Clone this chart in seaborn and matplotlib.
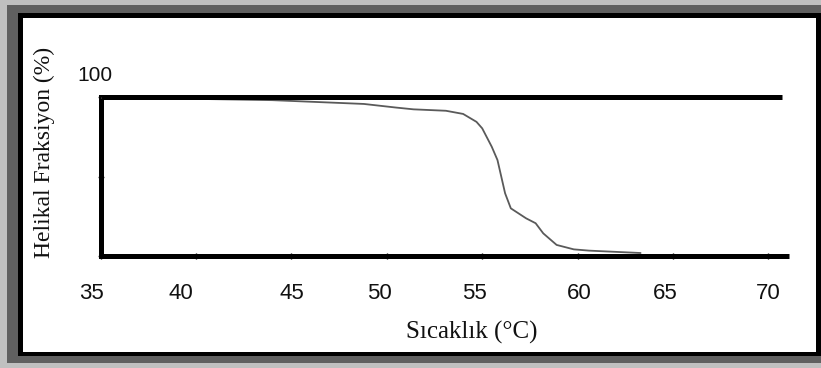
import matplotlib
matplotlib.use("Agg")
import matplotlib.pyplot as plt
import matplotlib.transforms as mtransforms
from matplotlib.patches import Rectangle
from matplotlib import font_manager
import seaborn as sns
import pandas as pd

# ---- data ----
temperature = [35, 40, 44, 46, 48.8, 50.5, 51.4, 53.1, 54.0, 54.7, 55.0, 55.5,
               55.8, 56.0, 56.2, 56.5, 57.3, 57.8, 58.2, 58.9, 59.8, 60.6, 63.3]
helical_fraction = [99.5, 99.0, 98.2, 97.2, 95.8, 93.5, 92.4, 91.5, 89.5, 84.5,
                    80.4, 68.8, 60.4, 49.9, 39.4, 29.9, 23.6, 20.5, 14.1, 6.8,
                    4.0, 3.2, 1.7]
x_ticks = [35, 40, 45, 50, 55, 60, 65, 70]
y_ticks = [0, 50, 100]
y_top_label = "100"
x_label = "Sıcaklık (°C)"
y_label = "Helikal Fraksiyon (%)"

df = pd.DataFrame({"T": temperature, "H": helical_fraction})

sns.set_theme(style="white")
plt.rcParams["font.family"] = ["Liberation Serif", "DejaVu Serif"]

installed = {f.name for f in font_manager.fontManager.ttflist}
tick_family = "Liberation Sans Narrow" if "Liberation Sans Narrow" in installed else "Liberation Sans"
tick_size = 18 if tick_family == "Liberation Sans Narrow" else 16

W, H = 821, 368
fig = plt.figure(figsize=(W / 100, H / 100), dpi=100)
fig.patch.set_facecolor("#c0c0c0")

def frect(x0, y0_top, x1, y1_top, color):
    fig.patches.append(Rectangle((x0 / W, (H - y1_top) / H), (x1 - x0) / W,
                                 (y1_top - y0_top) / H, transform=fig.transFigure,
                                 facecolor=color, edgecolor="none", zorder=-10))

frect(7, 5, 821, 363, "#606060")
frect(18, 13, 821, 356, "#000000")
frect(23, 18, 816, 352, "#ffffff")

ax = fig.add_axes([100.6 / W, (H - 255.7) / H, 690.7 / W, 158.4 / H])
ax.set_facecolor("none")

sns.lineplot(data=df, x="T", y="H", ax=ax, color="#5a5a5a", linewidth=1.3, zorder=3)

ax.set_xlim(35, 71.2)
ax.set_ylim(0, 100)

# thick frame lines
ax.hlines(100, 35, 70.7, colors="black", linewidth=3.6, clip_on=False, zorder=4)
ax.hlines(0, 35, 71.1, colors="black", linewidth=3.6, clip_on=False, zorder=4)
for side in ["top", "right", "bottom"]:
    ax.spines[side].set_visible(False)
ax.spines["left"].set_linewidth(3.6)
ax.spines["left"].set_color("black")

ax.set_xticks(x_ticks)
ax.set_xticklabels([str(t) for t in x_ticks])
ax.set_yticks(y_ticks)
ax.set_yticklabels([])
ax.tick_params(axis="x", direction="inout", length=5, width=1, color="black",
               pad=17, labelsize=tick_size, labelcolor="#111111", bottom=True)
ax.tick_params(axis="y", direction="inout", length=5, width=1, color="#444444", left=True)
for lab in ax.get_xticklabels():
    lab.set_fontfamily([tick_family, "DejaVu Sans"])

label_nudge_px = [-9, -15, 0, -7, -8, 2, -8, 0]
for lab, dx in zip(ax.get_xticklabels(), label_nudge_px):
    lab.set_transform(lab.get_transform() +
                      mtransforms.ScaledTranslation(dx / 100, 0, fig.dpi_scale_trans))

ax.annotate(y_top_label, xy=(35, 100), xytext=(-5.6, 22), textcoords="offset pixels",
            ha="center", va="center", fontsize=15, color="#111111",
            family=["Liberation Sans", "DejaVu Sans"], annotation_clip=False)

ax.set_xlabel(x_label, fontsize=18, color="#111111", labelpad=4)
ax.xaxis.set_label_coords((472 - 100.6) / 690.7, (255.7 - 332) / 158.4)
ax.set_ylabel(y_label, fontsize=17, color="#111111")
ax.yaxis.set_label_coords((44 - 100.6) / 690.7, (255.7 - 152) / 158.4)
ax.xaxis.label.set_va("center")
ax.yaxis.label.set_va("center")

fig.savefig("out.png", dpi=100, facecolor=fig.get_facecolor())
